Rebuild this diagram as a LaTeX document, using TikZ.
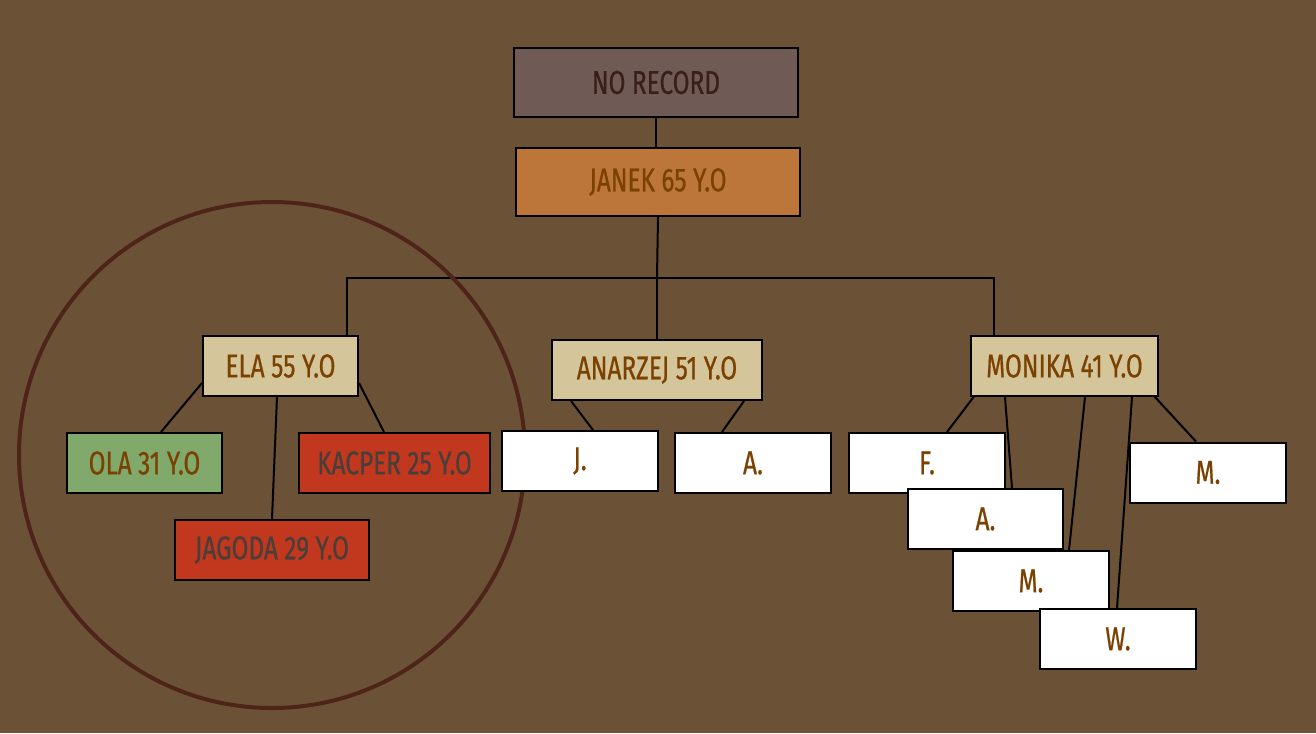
\documentclass[tikz,border=0pt]{standalone}
\usepackage{fontspec}
\setmainfont{Fira Sans}[FakeStretch=0.74,FakeBold=0.6]
\usetikzlibrary{backgrounds}

\definecolor{bgbrown}{HTML}{6B5236}
\definecolor{ringbrown}{HTML}{4E2419}
\definecolor{txtbrown}{HTML}{7A4100}
\definecolor{txtdark}{HTML}{3A1E18}
\definecolor{txtgray}{HTML}{4A3E3A}
\definecolor{recordfill}{HTML}{6F5A55}
\definecolor{janekfill}{HTML}{BD763A}
\definecolor{sandfill}{HTML}{D5C59A}
\definecolor{greenfill}{HTML}{80A96B}
\definecolor{redfill}{HTML}{C2381E}

\begin{document}
\begin{tikzpicture}[
		x={(1pt,0pt)},
		y={(0pt,-1pt)},
		box/.style={draw=black,line width=2pt,minimum height=60pt,inner sep=0pt,
			font=\fontsize{33}{36}\selectfont,text=txtbrown},
		link/.style={draw=black,line width=2pt},
	]
		\useasboundingbox (0,0) rectangle (1316,733);
		\begin{scope}[on background layer]
			\fill[bgbrown] (0,0) rectangle (1316,733);
		\end{scope}

		% ring round Ela's family
		\draw[ringbrown,line width=4pt] (272,455) circle (253pt);

		% top of the tree
		\node[box,fill=recordfill,text=txtdark,minimum width=284pt,minimum height=69pt] (norecord) at (656,82.5) {NO RECORD};
		\node[box,fill=janekfill,minimum width=284pt,minimum height=68pt] (janek) at (658,182) {JANEK 65 Y.O};
		\coordinate (bus) at (657,278);

		% children
		\node[box,fill=sandfill,minimum width=155pt] (ela) at (280.5,366) {ELA 55 Y.O};
		\node[box,fill=sandfill,minimum width=210pt] (anarzej) at (657,370) {ANARZEJ 51 Y.O};
		\node[box,fill=sandfill,minimum width=187pt] (monika) at (1064.5,366) {MONIKA 41 Y.O};

		% grandchildren
		\node[box,fill=greenfill,minimum width=155pt] (ola) at (144.5,463) {OLA 31 Y.O};
		\node[box,fill=redfill,text=txtgray,minimum width=191pt] (kacper) at (394.5,463) {KACPER 25 Y.O};
		\node[box,fill=redfill,text=txtgray,minimum width=194pt] (jagoda) at (272,550) {JAGODA 29 Y.O};

		\node[box,fill=white,minimum width=156pt] (anJ) at (580,461) {J.};
		\node[box,fill=white,minimum width=156pt] (anA) at (753,463) {A.};

		\node[box,fill=white,minimum width=156pt] (moF) at (927,463) {F.};
		\node[box,fill=white,minimum width=155pt] (moA) at (985.5,519) {A.};
		\node[box,fill=white,minimum width=156pt] (moM) at (1031,581) {M.};
		\node[box,fill=white,minimum width=156pt] (moW) at (1118,639) {W.};
		\node[box,fill=white,minimum width=156pt] (moMr) at (1208,472.5) {M.};

		\begin{scope}[on background layer]
			\draw[link] (norecord.south) -- (janek.south -| norecord.south);
			\draw[link] (janek.south) -- (bus);
			\draw[link] ([xshift=66.5pt]ela.north) |- (bus) -| ([xshift=-70.5pt]monika.north);
			\draw[link] (bus) -- (anarzej.north);

			\draw[link] ([yshift=-17pt]ela.west) -- ([xshift=16.5pt]ola.north);
			\draw[link] ([xshift=-3.5pt]ela.south) -- (jagoda.north);
			\draw[link] ([yshift=-17pt]ela.east) -- ([xshift=-10.5pt]kacper.north);

			\draw[link] ([xshift=-86pt]anarzej.south) -- ([xshift=13pt]anJ.north);
			\draw[link] ([xshift=87pt]anarzej.south) -- ([xshift=-31pt]anA.north);

			\draw[link] ([xshift=12pt,yshift=11pt]monika.south west) -- ([xshift=20pt]moF.north);
			\draw[link] ([xshift=-59.5pt]monika.south) -- ([xshift=26.5pt]moA.north);
			\draw[link] ([xshift=20.5pt]monika.south) -- ([xshift=38pt]moM.north);
			\draw[link] ([xshift=67.5pt]monika.south) -- ([xshift=-1pt]moW.north);
			\draw[link] ([xshift=-17pt,yshift=14pt]monika.south east) -- ([xshift=-12pt]moMr.north);
		\end{scope}
	\end{tikzpicture}
\end{document}
